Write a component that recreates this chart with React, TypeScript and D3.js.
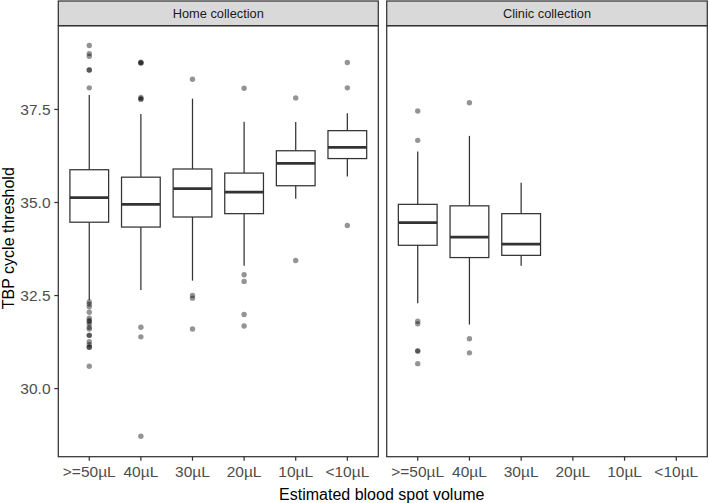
import React from "react";
import * as d3 from "d3";

const categories = [">=50\u00b5L", "40\u00b5L", "30\u00b5L", "20\u00b5L", "10\u00b5L", "<10\u00b5L"];
const panels = ["Home collection", "Clinic collection"];
const yTicks = [30.0, 32.5, 35.0, 37.5];

// Home collection box statistics (per category)
const homeLower = [32.38, 32.65, 32.9, 33.3, 35.1, 35.7];
const homeQ1 = [34.47, 34.34, 34.61, 34.7, 35.45, 36.18];
const homeMedian = [35.13, 34.95, 35.37, 35.28, 36.05, 36.48];
const homeQ3 = [35.88, 35.68, 35.9, 35.79, 36.39, 36.93];
const homeUpper = [37.89, 37.38, 37.79, 37.17, 37.16, 37.4];
const homeOutliers = [
  [39.22, 39.0, 38.93, 38.56, 38.56, 38.08, 32.33, 32.27, 32.2, 32.05, 31.89, 31.83, 31.8, 31.74, 31.65, 31.6, 31.43, 31.43, 31.26, 31.18, 31.11, 31.11, 30.6],
  [38.75, 38.77, 38.75, 37.79, 37.82, 37.77, 31.65, 31.39, 28.72],
  [38.31, 32.5, 32.43, 31.6],
  [38.07, 33.06, 32.88, 31.99, 31.68],
  [37.81, 33.44],
  [38.76, 38.08, 34.38],
];

// Clinic collection box statistics (only first three categories)
const clinicLower = [32.29, 31.72, 33.3];
const clinicQ1 = [33.85, 33.52, 33.58];
const clinicMedian = [34.46, 34.07, 33.88];
const clinicQ3 = [34.95, 34.91, 34.7];
const clinicUpper = [36.37, 36.79, 35.53];
const clinicOutliers = [
  [37.46, 36.67, 31.81, 31.74, 31.02, 31.0, 30.67],
  [37.68, 31.34, 30.96],
  [],
];

const W = 709;
const H = 503;
const panelTop = 25.7;
const panelBottom = 456.7;
const stripTop = 1;
const panelX = [
  [58.3, 378.3],
  [386.7, 707.3],
];
const dark = "#333333";
const lw = 1.25;

type Box = { lo: number; q1: number; med: number; q3: number; hi: number; out: number[] };

function makeBoxes(lo: number[], q1: number[], med: number[], q3: number[], hi: number[], out: number[][]): Box[] {
  return lo.map((_, i) => ({ lo: lo[i], q1: q1[i], med: med[i], q3: q3[i], hi: hi[i], out: out[i] }));
}

const panelBoxes: Box[][] = [
  makeBoxes(homeLower, homeQ1, homeMedian, homeQ3, homeUpper, homeOutliers),
  makeBoxes(clinicLower, clinicQ1, clinicMedian, clinicQ3, clinicUpper, clinicOutliers),
];

export default function App() {
  const y = d3.scaleLinear().domain([28.17, 39.75]).range([panelBottom, panelTop]);
  const font = "'Liberation Sans', Arial, sans-serif";

  return (
    <svg width={W} height={H} style={{ position: "absolute", left: 0, top: 0 }} fontFamily={font}>
      <rect x={0} y={0} width={W} height={H} fill="white" />
      {panels.map((p, pi) => {
        const [x0, x1] = panelX[pi];
        const x = d3.scalePoint<string>().domain(categories).range([x0, x1]).padding(0.6);
        const bw = x.step() * 0.75;
        const boxes = panelBoxes[pi];
        return (
          <g key={p}>
            {/* strip */}
            <rect x={x0} y={stripTop} width={x1 - x0} height={panelTop - stripTop} fill="#D9D9D9" stroke={dark} strokeWidth={lw} />
            <text x={(x0 + x1) / 2} y={(stripTop + panelTop) / 2 + 4.6} textAnchor="middle" fontSize={12.8} fill="#1A1A1A">
              {p}
            </text>
            {/* boxes */}
            {boxes.map((b, i) => {
              const cx = x(categories[i])!;
              return (
                <g key={i}>
                  <line x1={cx} x2={cx} y1={y(b.hi)} y2={y(b.q3)} stroke={dark} strokeWidth={lw} />
                  <line x1={cx} x2={cx} y1={y(b.q1)} y2={y(b.lo)} stroke={dark} strokeWidth={lw} />
                  <rect x={cx - bw / 2} y={y(b.q3)} width={bw} height={y(b.q1) - y(b.q3)} fill="white" stroke={dark} strokeWidth={lw} />
                  <line x1={cx - bw / 2} x2={cx + bw / 2} y1={y(b.med)} y2={y(b.med)} stroke={dark} strokeWidth={2.8} />
                  {b.out.map((v, k) => (
                    <circle key={k} cx={cx} cy={y(v)} r={2.7} fill="black" fillOpacity={0.42} />
                  ))}
                </g>
              );
            })}
            {/* panel border */}
            <rect x={x0} y={panelTop} width={x1 - x0} height={panelBottom - panelTop} fill="none" stroke={dark} strokeWidth={lw} />
            {/* x ticks */}
            {categories.map((c) => (
              <g key={c}>
                <line x1={x(c)!} x2={x(c)!} y1={panelBottom} y2={panelBottom + 4} stroke={dark} strokeWidth={lw} />
                <text x={x(c)!} y={477} textAnchor="middle" fontSize={15.5} fill="#4D4D4D">
                  {c}
                </text>
              </g>
            ))}
          </g>
        );
      })}
      {/* y axis */}
      {yTicks.map((t) => (
        <g key={t}>
          <line x1={panelX[0][0] - 4} x2={panelX[0][0]} y1={y(t)} y2={y(t)} stroke={dark} strokeWidth={lw} />
          <text x={50.5} y={y(t) + 5.4} textAnchor="end" fontSize={15.5} fill="#4D4D4D">
            {t.toFixed(1)}
          </text>
        </g>
      ))}
      <text
        transform={`translate(14, ${(panelTop + panelBottom) / 2 - 3}) rotate(-90)`}
        textAnchor="middle"
        fontSize={16}
        fill="black"
      >
        TBP cycle threshold
      </text>
      <text x={(panelX[0][0] + panelX[1][1]) / 2 - 1} y={500} textAnchor="middle" fontSize={16} fill="black">
        Estimated blood spot volume
      </text>
    </svg>
  );
}
